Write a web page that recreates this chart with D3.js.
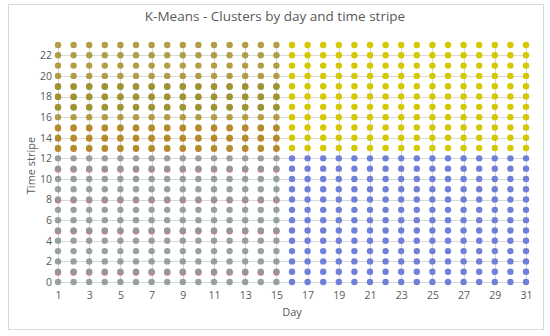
<!DOCTYPE html>
<html>
<head>
<meta charset="utf-8">
<script src="https://cdn.jsdelivr.net/npm/d3@7"></script>
<style>
  body { margin: 0; background: #fff; }
  text { font-family: "Open Sans", "Noto Sans", sans-serif; fill: #595959; }
</style>
</head>
<body>
<div id="chart"></div>
<script>
// days and time stripes that make up each cluster
var daysEarly = [1, 2, 3, 4, 5, 6, 7, 8, 9, 10, 11, 12, 13, 14, 15];
var daysLate = [16, 17, 18, 19, 20, 21, 22, 23, 24, 25, 26, 27, 28, 29, 30, 31];
var hoursLow = [0, 1, 2, 3, 4, 5, 6, 7, 8, 9, 10, 11, 12];
var hoursHigh = [13, 14, 15, 16, 17, 18, 19, 20, 21, 22, 23];
// points that sit under the main clusters (overlapping assignments)
var hoursOrange = [13, 14, 15];
var hoursGreen = [17, 18, 19];
var hoursPink = [1, 5, 8, 11];
var xTicks = [1, 3, 5, 7, 9, 11, 13, 15, 17, 19, 21, 23, 25, 27, 29, 31];
var yTicks = [0, 2, 4, 6, 8, 10, 12, 14, 16, 18, 20, 22];

var svgWidth = 550, svgHeight = 336;
var margin = { top: 45, right: 24, bottom: 54, left: 58 };

var svg = d3.select('#chart').append('svg')
    .attr('width', svgWidth).attr('height', svgHeight)
    .style('display', 'block');

// chart border
svg.append('rect')
    .attr('x', 8.5).attr('y', 4.5)
    .attr('width', 535).attr('height', 325)
    .attr('fill', '#fff').attr('stroke', '#d9d9d9');

svg.append('text')
    .attr('x', 275).attr('y', 21)
    .attr('text-anchor', 'middle')
    .style('font-size', '13.5px')
    .text('K-Means - Clusters by day and time stripe');

var x = d3.scaleLinear().domain([1, 31]).range([margin.left, svgWidth - margin.right]);
var y = d3.scaleLinear().domain([0, 23]).range([svgHeight - margin.bottom, margin.top]);

// gridlines
var grid = svg.append('g').attr('stroke', '#d9d9d9').attr('stroke-width', 1);
grid.selectAll('.h').data(yTicks).enter().append('line')
    .attr('x1', x(1)).attr('x2', x(31))
    .attr('y1', d => Math.round(y(d)) + 0.5).attr('y2', d => Math.round(y(d)) + 0.5);
grid.selectAll('.v').data(xTicks).enter().append('line')
    .attr('y1', y(0)).attr('y2', y(23))
    .attr('x1', d => Math.round(x(d)) + 0.5).attr('x2', d => Math.round(x(d)) + 0.5);

// axes (labels only, Excel style)
var xAxis = svg.append('g')
    .attr('transform', `translate(0, ${y(0) + 6})`)
    .call(d3.axisBottom(x).tickValues(xTicks).tickSize(0).tickPadding(4));
var yAxis = svg.append('g')
    .attr('transform', `translate(${x(1) - 4}, 0)`)
    .call(d3.axisLeft(y).tickValues(yTicks).tickSize(0).tickPadding(2));
[xAxis, yAxis].forEach(a => {
    a.select('.domain').remove();
    a.selectAll('text').style('font-size', '10.5px').attr('fill', '#595959');
});

svg.append('text')
    .attr('x', (x(1) + x(31)) / 2).attr('y', 316)
    .attr('text-anchor', 'middle')
    .style('font-size', '11px')
    .text('Day');
svg.append('text')
    .attr('transform', `translate(35, ${(y(0) + y(23)) / 2 + 2}) rotate(-90)`)
    .attr('text-anchor', 'middle')
    .style('font-size', '11px')
    .text('Time stripe');

function cross(days, hours) {
    var pts = [];
    days.forEach(d => hours.forEach(h => pts.push([d, h])));
    return pts;
}

function drawSeries(pts, color, opts) {
    opts = opts || {};
    svg.append('g').selectAll('circle').data(pts).enter().append('circle')
        .attr('cx', d => x(d[0]) + (opts.dx || 0))
        .attr('cy', d => y(d[1]) + (opts.dy || 0))
        .attr('r', 3.2)
        .attr('fill', color)
        .attr('fill-opacity', opts.opacity || 1);
}

// underlying points
drawSeries(cross(daysEarly, hoursPink), '#e8708c', { dy: 0.8 });
drawSeries(cross(daysEarly, hoursOrange), '#e2762a', { dy: 0.8 });
drawSeries(cross(daysEarly, hoursGreen), '#6fa43a', { dy: 0.6 });
// main clusters
drawSeries(cross(daysEarly, hoursLow), '#8e9a96', { opacity: 0.92 });
drawSeries(cross(daysEarly, hoursHigh), '#a8902e', { opacity: 0.88 });
drawSeries(cross(daysLate, hoursLow), '#7080d8');
drawSeries(cross(daysLate, hoursHigh), '#d4c800');
</script>
</body>
</html>
